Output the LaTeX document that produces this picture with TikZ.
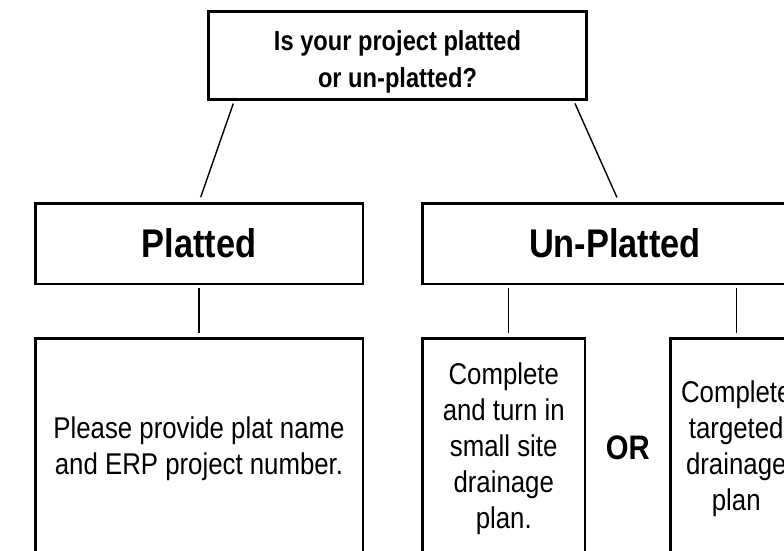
\documentclass[tikz,border=0pt]{standalone}
\usepackage{fontspec}
\setmainfont{Liberation Sans}[FakeStretch=0.86]
\usetikzlibrary{positioning,calc}

\begin{document}
\begin{tikzpicture}[x=1pt,y=-1pt,
    box/.style={draw=black,line width=2.5pt,fill=white,align=center,inner sep=0pt},
    link/.style={draw=black,line width=1.4pt},
    boxtext/.style={font=\fontsize{30}{36}\selectfont},
    headtext/.style={font=\bfseries\fontsize{40}{48}\selectfont}]
  \useasboundingbox (0,0) rectangle (784,550);
  \clip (0,0) rectangle (784,550);
  % question and the two answers
  \node[box,minimum width=378pt,minimum height=88pt,
        font=\bfseries\fontsize{27.5}{37}\selectfont] (q) at (397.5,55.5)
        {\rule{0pt}{32pt}Is your project platted\\or un-platted?};
  \node[box,headtext,minimum width=327.5pt,minimum height=80.5pt] (plat) at (199,243.5) {Platted};
  \node[box,headtext,minimum width=385pt,minimum height=80.5pt] (unplat) at (615,243.5) {Un-Platted};
  % what to hand in
  \node[box,boxtext,minimum width=327.5pt,minimum height=220pt,below=52pt of plat] (plname)
        {Please provide plat name\\and ERP project number.};
  \node[box,boxtext,minimum width=162.5pt,minimum height=220pt,anchor=north west]
        (small) at ([yshift=-52pt]unplat.south west)
        {Complete\\and turn in\\small site\\drainage\\plan.};
  \node[box,boxtext,minimum width=131.5pt,minimum height=220pt,right=83pt of small] (target)
        {Complete\\targeted\\drainage\\plan};
  \node[font=\bfseries\fontsize{34}{40}\selectfont] (orword) at ($(small.east)!0.5!(target.west)$) {OR};
  \draw[link,shorten <=3pt,shorten >=5pt] ([xshift=27pt]q.south west) -- (plat.north);
  \draw[link,shorten <=3pt,shorten >=5pt] ([xshift=-14pt]q.south east) -- ([xshift=4pt]unplat.north);
  \draw[link,shorten <=3pt,shorten >=4pt] (plat.south) -- (plname.north);
  \draw[link,shorten <=3pt,shorten >=4pt] ([xshift=5pt]small.north |- unplat.south) -- ([xshift=5pt]small.north);
  \draw[link,shorten <=3pt,shorten >=4pt] (target.north |- unplat.south) -- (target.north);
\end{tikzpicture}
\end{document}
